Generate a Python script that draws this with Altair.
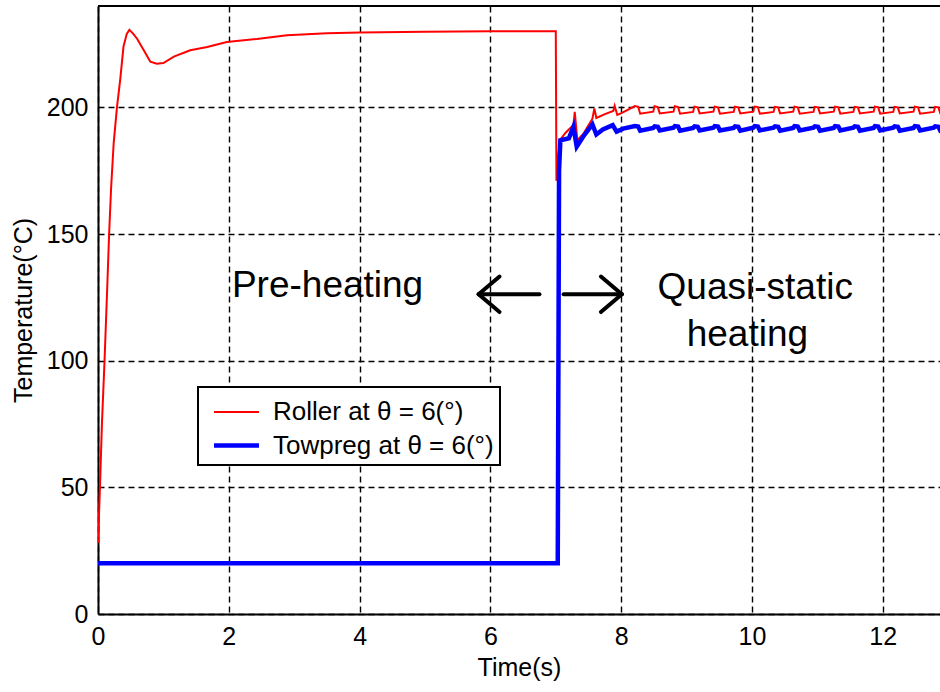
import altair as alt
import pandas as pd

# ---------------- data ----------------
series_names = ["Roller at θ = 6(°)", "Towpreg at θ = 6(°)"]
series_colors = ["#ff0000", "#0000ff"]
series_widths = [2.0, 4.5]

roller_t = [
    0.00, 0.03, 0.06, 0.10, 0.14, 0.17, 0.20, 0.24, 0.29, 0.34, 0.39, 0.44,
    0.48, 0.54, 0.60, 0.70, 0.80, 0.90, 1.00, 1.16, 1.41, 1.67, 1.97, 2.43,
    2.89, 3.50, 4.00, 5.00, 6.00, 7.00,
    7.01, 7.04, 7.06, 7.15, 7.27, 7.29, 7.33, 7.42, 7.56, 7.59, 7.62, 7.75,
    7.88, 7.90, 7.94, 8.02,
    8.21, 8.26, 8.29, 8.49,
    8.51, 8.56, 8.59, 8.80,
    8.82, 8.87, 8.90, 9.10,
    9.12, 9.17, 9.20, 9.41,
    9.43, 9.48, 9.51, 9.72,
    9.74, 9.79, 9.82, 10.02,
    10.04, 10.09, 10.12, 10.33,
    10.35, 10.40, 10.43, 10.63,
    10.65, 10.70, 10.73, 10.94,
    10.96, 11.01, 11.04, 11.25,
    11.27, 11.32, 11.35, 11.55,
    11.57, 11.62, 11.65, 11.86,
    11.88, 11.93, 11.96, 12.16,
    12.18, 12.23, 12.26, 12.47,
    12.49, 12.54, 12.57, 12.78,
    12.80, 12.85, 12.88, 13.08,
    13.10,
]
roller_T = [
    28, 50, 75, 100, 128, 150, 168, 186, 200, 211, 224, 229,
    230.6, 229, 227, 222.5, 218, 217.2, 217.5, 220, 222.5, 223.8, 225.8, 227,
    228.5, 229.2, 229.5, 229.8, 230, 230,
    171, 181, 187, 190, 193, 198.2, 187, 189.5, 195.5, 199.6, 195.8, 197.3,
    198.6, 200.6, 197.0, 197.9,
    200.5, 200.2, 197.5, 198.3,
    200.4, 200.1, 197.6, 198.3,
    200.4, 200.1, 197.5, 198.2,
    200.3, 200.0, 197.6, 198.3,
    200.3, 200.0, 197.5, 198.2,
    200.3, 200.0, 197.6, 198.3,
    200.3, 200.1, 197.5, 198.2,
    200.2, 200.0, 197.6, 198.3,
    200.3, 200.0, 197.5, 198.2,
    200.2, 200.0, 197.6, 198.3,
    200.3, 200.0, 197.5, 198.2,
    200.2, 200.0, 197.6, 198.3,
    200.3, 200.0, 197.5, 198.2,
    200.2, 200.0, 197.6, 198.3,
    200.3, 200.0, 197.5, 198.2,
    200.2, 200.0, 197.6, 198.3,
    200.2,
]

towpreg_t = [
    0.00, 7.03, 7.05, 7.07, 7.20, 7.27, 7.32, 7.42, 7.56, 7.62, 7.72, 7.87,
    7.93, 8.03,
    8.21, 8.26, 8.29, 8.49,
    8.51, 8.56, 8.59, 8.80,
    8.82, 8.87, 8.90, 9.10,
    9.12, 9.17, 9.20, 9.41,
    9.43, 9.48, 9.51, 9.72,
    9.74, 9.79, 9.82, 10.02,
    10.04, 10.09, 10.12, 10.33,
    10.35, 10.40, 10.43, 10.63,
    10.65, 10.70, 10.73, 10.94,
    10.96, 11.01, 11.04, 11.25,
    11.27, 11.32, 11.35, 11.55,
    11.57, 11.62, 11.65, 11.86,
    11.88, 11.93, 11.96, 12.16,
    12.18, 12.23, 12.26, 12.47,
    12.49, 12.54, 12.57, 12.78,
    12.80, 12.85, 12.88, 13.08,
]
towpreg_T = [
    20, 20, 175, 187, 187.8, 192.3, 184.5, 188.5, 193.3, 189.3, 191.3, 193.0,
    190.4, 191.6,
    192.6, 192.4, 190.8, 191.9,
    192.5, 192.3, 190.9, 192.0,
    192.6, 192.4, 190.8, 191.9,
    192.5, 192.3, 190.9, 192.0,
    192.6, 192.4, 190.9, 191.9,
    192.5, 192.3, 190.8, 192.0,
    192.6, 192.4, 190.9, 192.0,
    192.5, 192.3, 190.8, 191.9,
    192.6, 192.4, 190.9, 192.0,
    192.5, 192.3, 190.8, 191.9,
    192.6, 192.4, 190.9, 192.0,
    192.5, 192.3, 190.8, 191.9,
    192.6, 192.4, 190.9, 192.0,
    192.5, 192.3, 190.8, 191.9,
    192.6, 192.4, 190.9, 192.0,
    192.5, 192.3, 190.8, 191.9,
]

x_ticks = [0, 2, 4, 6, 8, 10, 12]
y_ticks = [0, 50, 100, 150, 200]
x_max = 12.875
y_max = 240

note_text = ["Pre-heating", "Quasi-static", "heating"]
note_t = [3.51, 10.05, 9.93]
note_T = [125.0, 124.3, 105.7]

# arrow segments: shaft and two head strokes per arrow
arrow_t0 = [5.82, 5.82, 5.82, 7.12, 8.01, 8.01]
arrow_t1 = [6.75, 6.14, 6.14, 8.01, 7.69, 7.69]
arrow_T0 = [126.2, 126.2, 126.2, 126.2, 126.2, 126.2]
arrow_T1 = [126.2, 133.2, 119.2, 126.2, 133.2, 119.2]

# ---------------- build tables ----------------
rows = []
for i, (t, v) in enumerate(zip(roller_t, roller_T)):
    rows.append({"series": series_names[0], "t": t, "T": v, "idx": i})
for i, (t, v) in enumerate(zip(towpreg_t, towpreg_T)):
    rows.append({"series": series_names[1], "t": t, "T": v, "idx": i})
df = pd.DataFrame(rows)

notes = pd.DataFrame({"text": note_text, "t": note_t, "T": note_T})
arrows = pd.DataFrame({"t0": arrow_t0, "t1": arrow_t1, "T0": arrow_T0, "T1": arrow_T1})
top = pd.DataFrame({"T": [y_max]})

FONT = "Liberation Sans"

xscale = alt.Scale(domain=[0, x_max], nice=False, zero=False)
yscale = alt.Scale(domain=[0, y_max], nice=False)

legend = alt.Legend(
    orient="none", legendX=100, legendY=381, title=None,
    symbolType="M-1.25,0H1.25", symbolSize=1296, symbolOffset=12,
    labelOffset=16, labelFont=FONT, labelFontSize=26, labelColor="black",
    labelLimit=400, padding=6, rowPadding=0,
    fillColor="white", strokeColor="black",
)

lines = alt.Chart(df).mark_line(clip=True).encode(
    x=alt.X("t:Q", scale=xscale,
            axis=alt.Axis(values=x_ticks, format="d", title="Time(s)", titlePadding=6,
                          labelPadding=10, labelFlush=False)),
    y=alt.Y("T:Q", scale=yscale,
            axis=alt.Axis(values=y_ticks, format="d", title="Temperature(°C)",
                          titlePadding=10, labelPadding=10, labelFlush=False)),
    color=alt.Color("series:N", scale=alt.Scale(domain=series_names, range=series_colors),
                    legend=legend),
    strokeWidth=alt.StrokeWidth("series:N",
                                scale=alt.Scale(domain=series_names, range=series_widths),
                                legend=legend),
    order=alt.Order("idx:Q"),
)

top_rule = alt.Chart(top).mark_rule(color="black", strokeWidth=2).encode(
    y=alt.Y("T:Q", scale=yscale)
)

arrow_marks = alt.Chart(arrows).mark_rule(color="black", strokeWidth=4, strokeCap="round").encode(
    x=alt.X("t0:Q", scale=xscale), x2="t1:Q",
    y=alt.Y("T0:Q", scale=yscale), y2="T1:Q",
)

note_marks = alt.Chart(notes).mark_text(
    font=FONT, fontSize=37, baseline="alphabetic", align="center", color="black"
).encode(
    x=alt.X("t:Q", scale=xscale), y=alt.Y("T:Q", scale=yscale), text="text:N"
)

chart = alt.layer(lines, top_rule, arrow_marks, note_marks).properties(
    width=842, height=608,
    padding={"left": 98, "top": 6, "right": 0, "bottom": 78},
    autosize=alt.AutoSizeParams(type="none"),
).configure_view(stroke=None).configure_axis(
    domainColor="black", domainWidth=2,
    grid=True, gridColor="black", gridDash=[6, 4], gridWidth=1.4, gridOpacity=1,
    ticks=False, tickSize=0,
    labelFont=FONT, labelFontSize=25, labelColor="black",
    titleFont=FONT, titleFontSize=25, titleFontWeight="normal", titleColor="black",
).configure_legend(strokeWidth=2)

chart.save("out.html", embed_options={"renderer": "svg", "actions": False})
